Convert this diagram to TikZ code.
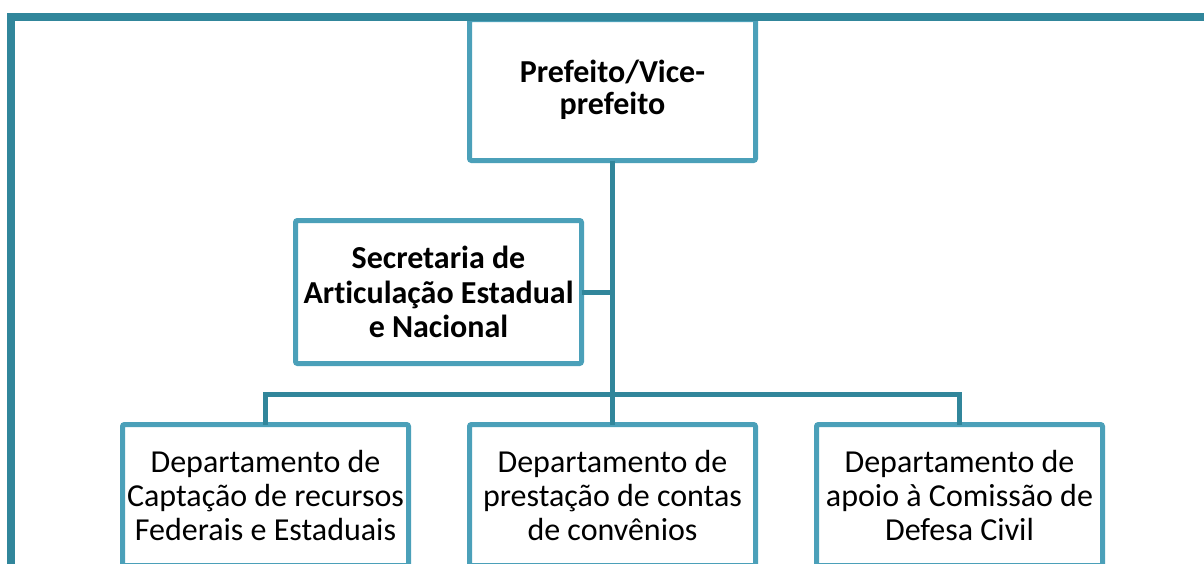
\documentclass[tikz,border=0pt]{standalone}
\usepackage{fontspec}
\setmainfont[Ligatures=NoCommon]{Carlito}
\usetikzlibrary{positioning}
\definecolor{FrameTeal}{RGB}{49,134,155}
\definecolor{BoxTeal}{RGB}{75,160,185}

\begin{document}
\begin{tikzpicture}[x=1pt, y=-1pt,
        unit/.style={draw=BoxTeal, line width=5pt, rounded corners=2pt, fill=white,
                     align=center, minimum width=286pt, minimum height=141pt,
                     inner sep=0pt, outer sep=0pt, font=\fontsize{32}{34}\selectfont},
        head/.style={unit, font=\bfseries\fontsize{32}{34.5}\selectfont},
        link/.style={draw=FrameTeal, line width=5pt},
        frame/.style={draw=FrameTeal, line width=8pt}
      ]
        \useasboundingbox (0,0) rectangle (1204,563);
        \clip (0,0) rectangle (1204,563);
        % top and staff unit
        \node[head, font=\bfseries\fontsize{32}{32}\selectfont] (pref) at (612.5,90) {Prefeito/Vice-\\prefeito};
        \node[head, minimum height=143pt] (sec) at (438.5,292)
              {Secretaria de\\Articulação Estadual\\e Nacional};
        % departments
        \node[unit, below=264pt of pref] (dcont) {Departamento de\\prestação de contas\\de convênios};
        \node[unit, left=61pt of dcont]  (dcap)  {Departamento de\\Captação de recursos\\Federais e Estaduais};
        \node[unit, right=61pt of dcont] (dciv)  {Departamento de\\apoio à Comissão de\\Defesa Civil};
        % connectors
        \coordinate (bus) at ([yshift=30pt]dcont.north);
        \draw[link] (pref.south) -- (dcont.north);
        \draw[link] (sec.east) -- (sec.east -| pref.south);
        \draw[link] (dcap.north) |- (bus) -| (dciv.north);
        % outer frame
        \draw[frame] (11,600) -- (11,17) -- (1210,17);
      \end{tikzpicture}
\end{document}
